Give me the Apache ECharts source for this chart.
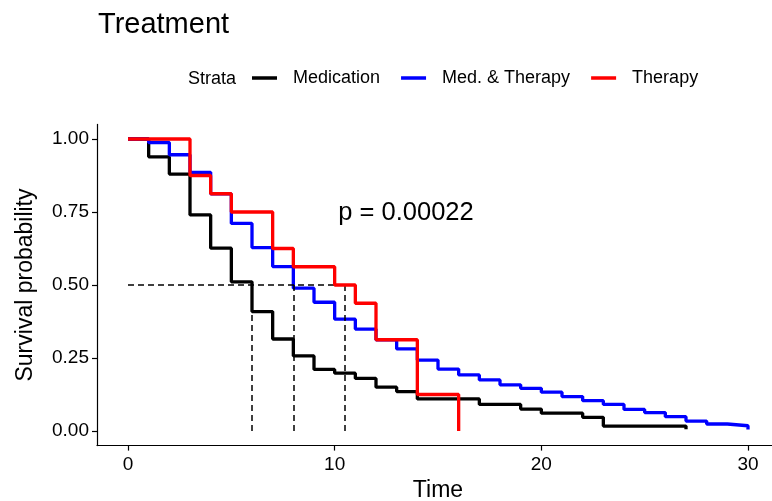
<!DOCTYPE html>
<html>
<head>
<meta charset="utf-8">
<title>Treatment</title>
<script src="https://cdn.jsdelivr.net/npm/echarts@6/dist/echarts.min.js"></script>
<style>
    html, body { margin: 0; padding: 0; background: #fff; }
    #chart { width: 772px; height: 501px; }
</style>
</head>
<body>
<div id="chart"></div>
<script>
// Kaplan-Meier estimates (time, survival)
var timeMed = [0, 1, 2, 3, 4, 5, 6, 7, 8, 9, 10, 11, 12, 13, 14, 17, 19, 20, 22, 23, 27];
var survMed = [1, 0.939, 0.880, 0.740, 0.626, 0.511, 0.409, 0.315, 0.257, 0.211, 0.198, 0.180, 0.150, 0.135, 0.110, 0.091, 0.075, 0.061, 0.047, 0.017, 0.006];

var timeBoth = [0, 1, 2, 3, 4, 5, 6, 7, 8, 9, 10, 11, 12, 13, 14, 15, 16, 17, 18, 19, 20, 21, 22, 23, 24, 25, 26, 27, 28, 29, 30];
var survBoth = [1, 0.988, 0.946, 0.886, 0.812, 0.711, 0.628, 0.563, 0.489, 0.441, 0.383, 0.349, 0.312, 0.281, 0.243, 0.212, 0.192, 0.175, 0.158, 0.146, 0.133, 0.118, 0.104, 0.091, 0.074, 0.063, 0.049, 0.034, 0.024, 0.018, 0.005];

var timeTher = [0, 3, 4, 5, 7, 8, 10, 11, 12, 14, 16];
var survTher = [1, 0.875, 0.8125, 0.75, 0.625, 0.5625, 0.5, 0.4375, 0.3125, 0.125, 0];

var strata = ['Medication', 'Med. & Therapy', 'Therapy'];
var colors = ['#000000', '#0000ff', '#ff0000'];
var medianTimes = [6, 8, 10.5];
var xTicks = [0, 10, 20, 30];
var yTicks = [0, 0.25, 0.5, 0.75, 1];
var pLabel = 'p = 0.00022';
var pPos = [13.45, 0.745];

var FONT = '"Liberation Sans", Arial, sans-serif';

function pairs(xs, ys) {
    var out = [];
    for (var i = 0; i < xs.length; i++) {
        out.push([xs[i], ys[i]]);
    }
    return out;
}

function medianLines() {
    var last = Math.max.apply(null, medianTimes);
    var lines = [[{coord: [0, 0.5]}, {coord: [last, 0.5]}]];
    for (var i = 0; i < medianTimes.length; i++) {
        lines.push([{coord: [medianTimes[i], 0.5]}, {coord: [medianTimes[i], 0]}]);
    }
    return lines;
}

function kmSeries(idx, xs, ys) {
    return {
        name: strata[idx],
        type: 'line',
        step: 'end',
        data: pairs(xs, ys),
        showSymbol: false,
        symbol: 'none',
        lineStyle: {color: colors[idx], width: 3.3},
        itemStyle: {color: colors[idx]},
        z: 3 + idx
    };
}

var chart = echarts.init(document.getElementById('chart'), null, {renderer: 'canvas'});

var axisCommon = {
    type: 'value',
    splitLine: {show: false},
    axisLine: {show: true, onZero: false, lineStyle: {color: '#000', width: 1.2}},
    axisTick: {show: true, length: 5, lineStyle: {color: '#000', width: 1.2}},
    nameLocation: 'middle',
    nameTextStyle: {fontFamily: FONT, fontSize: 23, color: '#000'}
};

var series = [
    kmSeries(0, timeMed, survMed),
    kmSeries(1, timeBoth, survBoth),
    kmSeries(2, timeTher, survTher)
];
series[0].markLine = {
    silent: true,
    symbol: 'none',
    animation: false,
    label: {show: false},
    lineStyle: {color: '#000', width: 1.5, type: [6, 4]},
    data: medianLines()
};

var option = {
    animation: false,
    backgroundColor: '#fff',
    textStyle: {fontFamily: FONT},
    title: {
        text: 'Treatment',
        left: 93,
        top: 5,
        textStyle: {fontFamily: FONT, fontSize: 29, fontWeight: 'normal', color: '#000'}
    },
    legend: {
        data: strata,
        left: 252,
        top: 69,
        padding: 0,
        icon: 'rect',
        itemWidth: 25,
        itemHeight: 3.5,
        itemGap: 21,
        textStyle: {fontFamily: FONT, fontSize: 18, color: '#000', padding: [0, 0, 0, 11]}
    },
    grid: {
        left: 97,
        top: 124.4,
        width: 682,
        height: 321.2,
        outerBoundsMode: 'none',
        containLabel: false
    },
    xAxis: echarts.util.merge({
        min: -1.5,
        max: 31.5,
        name: 'Time',
        nameGap: 33,
        axisTick: {customValues: xTicks},
        axisLabel: {customValues: xTicks, fontFamily: FONT, fontSize: 19, color: '#000', margin: 10}
    }, axisCommon),
    yAxis: echarts.util.merge({
        min: -0.05,
        max: 1.05,
        name: 'Survival probability',
        nameGap: 60,
        axisTick: {customValues: yTicks},
        axisLabel: {
            customValues: yTicks, fontFamily: FONT, fontSize: 19, color: '#000', margin: 8,
            formatter: function (v) { return v.toFixed(2); }
        }
    }, axisCommon),
    series: series
};

chart.setOption(option);

var pt = chart.convertToPixel({gridIndex: 0}, pPos);
chart.setOption({
    graphic: [{
        type: 'text',
        left: 188,
        top: 70,
        style: {text: 'Strata', fontFamily: FONT, fontSize: 18, fill: '#000'}
    }, {
        type: 'text',
        x: pt[0],
        y: pt[1],
        style: {
            text: pLabel, fontFamily: FONT, fontSize: 25.5, fill: '#000',
            align: 'center', verticalAlign: 'middle'
        }
    }]
});
</script>
</body>
</html>
